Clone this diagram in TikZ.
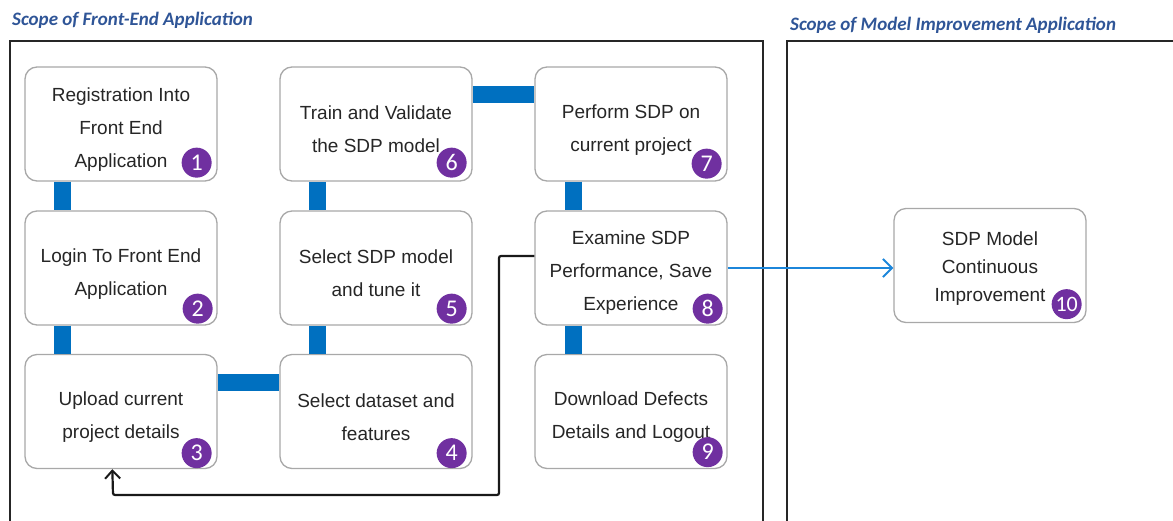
\documentclass[tikz,border=0pt]{standalone}
\usepackage{fontspec}
\setmainfont{Liberation Sans}
\newfontfamily\titlefont{Carlito}
\usetikzlibrary{calc,arrows.meta}
\definecolor{barblue}{HTML}{0070C0}
\definecolor{arrblue}{HTML}{1C86DA}
\definecolor{titleblue}{HTML}{2F5597}
\definecolor{badgepurple}{HTML}{7030A0}
\definecolor{boxgray}{HTML}{A8A8A8}
\newcommand\stxt[2]{\raisebox{#1}[0pt][0pt]{\parbox{192pt}{\centering #2}}}
\begin{document}
\begin{tikzpicture}[x=1pt,y=-1pt,
  stepbox/.style={draw=boxgray, line width=1.3pt, fill=white, rounded corners=12pt,
    minimum width=192pt, minimum height=114pt, inner sep=0pt, align=center,
    font=\fontsize{19}{33}\selectfont, text=black!85},
  badge/.style={circle, fill=badgepurple, minimum size=30pt, inner sep=0pt,
    text=white, font=\titlefont\fontsize{24}{24}\selectfont},
  bar/.style={draw=barblue, line width=17pt},
  frame/.style={draw=black!85, line width=2.5pt},
  title/.style={anchor=west, text=titleblue, font=\titlefont\bfseries\itshape\fontsize{19}{20}\selectfont, inner sep=0pt}
]
\useasboundingbox (0,0) rectangle (1173,520);
% frames
\draw[frame] (10,530) -- (10,41) -- (763,41) -- (763,530);
\draw[frame] (787,530) -- (787,41) -- (1190,41);
\node[title] (t1) at (12,20) {Scope of Front-End Application};
\node[title] (t2) at (790,25) {Scope of Model Improvement Application};
% boxes
\node[stepbox] (b1) at (121,124) {\stxt{-10pt}{Registration Into\\Front End\\Application}};
\node[stepbox] (b2) at (121,268) {\stxt{-10pt}{Login To Front End\\Application}};
\node[stepbox] (b3) at (121,411.5) {\stxt{-10pt}{Upload current\\project details}};
\node[stepbox] (b4) at (376,411.5) {\stxt{-10pt}{Select dataset and\\features}};
\node[stepbox] (b5) at (376,268) {\stxt{-10pt}{Select SDP model\\and tune it}};
\node[stepbox] (b6) at (376,124) {\stxt{-10pt}{Train and Validate\\the SDP model}};
\node[stepbox] (b7) at (631,124) {\stxt{-10pt}{Perform SDP on\\current project}};
\node[stepbox] (b8) at (631,268) {\stxt{-9pt}{Examine SDP\\Performance, Save\\Experience}};
\node[stepbox] (b9) at (631,411.5) {\stxt{-10pt}{Download Defects\\Details and Logout}};
\node[stepbox, font=\fontsize{19}{28}\selectfont] (b10) at (990,265.5) {\stxt{-7pt}{SDP Model\\Continuous\\Improvement}};
% blue bars
\draw[bar] ($(b1.south west)+(38,0)$) -- ($(b2.north west)+(38,0)$);
\draw[bar] ($(b2.south west)+(38,0)$) -- ($(b3.north west)+(38,0)$);
\draw[bar] ($(b3.north east)+(0,29)$) -- ($(b4.north west)+(0,29)$);
\draw[bar] ($(b4.north west)+(38,0)$) -- ($(b5.south west)+(38,0)$);
\draw[bar] ($(b5.north west)+(38,0)$) -- ($(b6.south west)+(38,0)$);
\draw[bar] ($(b6.north east)+(0,28)$) -- ($(b7.north west)+(0,28)$);
\draw[bar] ($(b7.south west)+(39,0)$) -- ($(b8.north west)+(39,0)$);
\draw[bar] ($(b8.south west)+(39,0)$) -- ($(b9.north west)+(39,0)$);
% badges
\node[badge] (n1) at ($(b1.south east)+(-21,-19)$) {1};
\node[badge] (n2) at ($(b2.south east)+(-20,-17)$) {2};
\node[badge] (n3) at ($(b3.south east)+(-21,-16)$) {3};
\node[badge] (n4) at ($(b4.south east)+(-21,-16)$) {4};
\node[badge] (n5) at ($(b5.south east)+(-21,-17)$) {5};
\node[badge] (n6) at ($(b6.south east)+(-21,-19)$) {6};
\node[badge] (n7) at ($(b7.south east)+(-21,-18)$) {7};
\node[badge] (n8) at ($(b8.south east)+(-20,-17)$) {8};
\node[badge] (n9) at ($(b9.south east)+(-20,-17)$) {9};
\node[badge, font=\titlefont\fontsize{22}{22}\selectfont] (n10) at ($(b10.south east)+(-20,-19)$) {10};
% black feedback arrow
\draw[black!90, line width=2.2pt, rounded corners=2pt, -{Straight Barb[length=8pt,width=15pt,line width=2pt]}]
  ($(b8.west)+(0,-12)$) -- (499,256) -- (499,495) -- (113,495) -- ($(b3.south west)+(88,0)$);
% blue arrow to box 10
\draw[arrblue, line width=2pt, -{Straight Barb[length=9pt,width=18pt,line width=2pt]}]
  (b8.east) -- (b8.east -| b10.west);
\end{tikzpicture}
\end{document}
